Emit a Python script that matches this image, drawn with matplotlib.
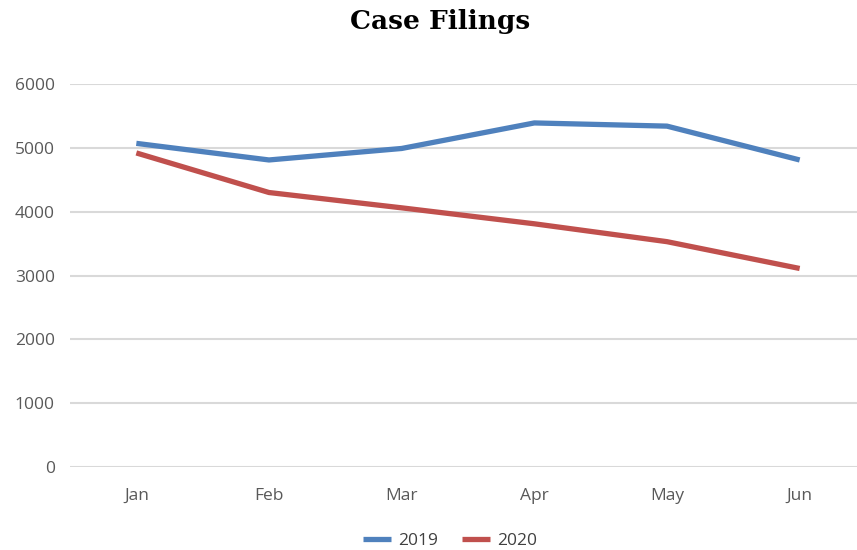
import matplotlib
matplotlib.use("Agg")
import matplotlib.pyplot as plt

months = ["Jan", "Feb", "Mar", "Apr", "May", "Jun"]
filings_2019 = [5070, 4810, 4990, 5390, 5340, 4810]
filings_2020 = [4920, 4300, 4060, 3810, 3530, 3110]
y_ticks = [0, 1000, 2000, 3000, 4000, 5000, 6000]

fig = plt.figure(figsize=(8.57, 5.5), dpi=100)
ax = fig.add_axes([70/857, 1-467/550, 796/857, (467-84)/550])

x = list(range(len(months)))
ax.plot(x, filings_2019, color="#4F81BD", lw=3.8, label="2019", solid_capstyle="butt", zorder=3)
ax.plot(x, filings_2020, color="#C0504D", lw=3.8, label="2020", solid_capstyle="butt", zorder=3)

ax.set_xlim(-0.5, 5.5)
ax.set_ylim(0, 6000)
ax.set_yticks(y_ticks)
ax.set_xticks(x)
ax.set_xticklabels(months)
ax.grid(axis="y", color="#D9D9D9", lw=1.5)
ax.set_axisbelow(True)
for s in ax.spines.values():
    s.set_visible(False)
ax.tick_params(length=0, labelsize=12.5, labelcolor="#595959", pad=0)
ax.tick_params(axis="x", pad=15)
ax.tick_params(axis="y", pad=11)
for lab in ax.get_xticklabels() + ax.get_yticklabels():
    lab.set_fontfamily("Open Sans")

fig.text(440/857, 1-21/550, "Case Filings", ha="center", va="center",
         fontsize=19, fontweight="bold", family="DejaVu Serif")

leg = fig.legend(loc="center", bbox_to_anchor=(450/857, 1-541/550), ncol=2, frameon=False,
                 prop={"family": "Open Sans", "size": 12.5}, handlelength=1.6, columnspacing=1.4,
                 handletextpad=0.4)
for t in leg.get_texts():
    t.set_color("#404040")

fig.savefig("out.png", dpi=100)
